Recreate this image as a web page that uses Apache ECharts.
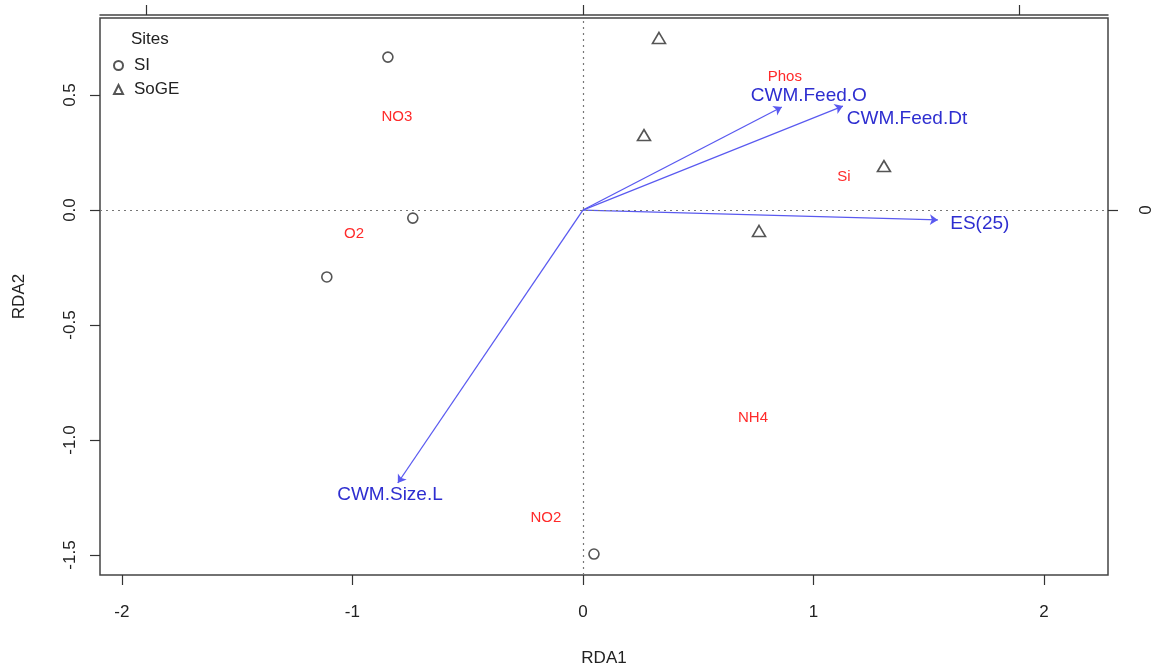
<!DOCTYPE html>
<html>
<head>
<meta charset="utf-8">
<script src="https://cdn.jsdelivr.net/npm/echarts@6/dist/echarts.min.js"></script>
<style>
html,body{margin:0;padding:0;background:#fff;}
#chart{width:1151px;height:669px;}
</style>
</head>
<body>
<div id="chart"></div>
<script>
// ---- data ----
const siPoints = [[-0.846, 0.665], [-0.738, -0.035], [-1.111, -0.291], [0.048, -1.496]];
const sogePoints = [[0.330, 0.748], [0.265, 0.326], [1.306, 0.191], [0.764, -0.091]];
const envNames = ['Phos', 'NO3', 'Si', 'O2', 'NH4', 'NO2'];
const envX = [0.876, -0.807, 1.132, -0.993, 0.738, -0.161];
const envY = [0.578, 0.404, 0.143, -0.104, -0.904, -1.339];
const traitNames = ['CWM.Feed.O', 'CWM.Feed.Dt', 'ES(25)', 'CWM.Size.L'];
const arrowX = [0.863, 1.128, 1.540, -0.803];
const arrowY = [0.448, 0.452, -0.043, -1.187];
const traitLabelX = [0.980, 1.406, 1.722, -0.837];
const traitLabelY = [0.496, 0.396, -0.061, -1.239];
const xTicks = [-2, -1, 0, 1, 2];
const yTicks = [-1.5, -1, -0.5, 0, 0.5];
const topTicks = [-1, 0, 1];
const rightTicks = [0];

const FONT = "'Liberation Sans', Arial, Helvetica, sans-serif";
const AX = '#333';

const chart = echarts.init(document.getElementById('chart'));
chart.setOption({
  animation: false,
  backgroundColor: '#fff',
  textStyle: { fontFamily: FONT },
  title: {
    text: 'Sites', left: 126, top: 26,
    textStyle: { fontFamily: FONT, fontSize: 17, fontWeight: 'normal', color: '#222' }
  },
  legend: {
    orient: 'vertical', left: 108, top: 52, itemWidth: 9, itemHeight: 9, itemGap: 7,
    textStyle: { fontFamily: FONT, fontSize: 17, color: '#222', padding: [0, 0, 0, 6] },
    data: [{ name: 'SI', icon: 'circle' }, { name: 'SoGE', icon: 'triangle' }]
  },
  grid: {
    left: 100, right: 43, top: 18, bottom: 94, outerBoundsMode: 'none', containLabel: false,
    show: true, borderColor: '#444', borderWidth: 1.5, backgroundColor: 'transparent'
  },
  xAxis: [
    {
      type: 'value', position: 'bottom', min: -2.095, max: 2.278,
      axisLine: { show: false, onZero: false },
      splitLine: { show: false },
      axisTick: { show: true, customValues: xTicks, length: 10, lineStyle: { color: AX, width: 1.2 } },
      axisLabel: { customValues: xTicks, margin: 29, fontSize: 17, color: '#222', fontFamily: FONT },
      name: 'RDA1', nameLocation: 'middle', nameGap: 75,
      nameTextStyle: { fontSize: 17, color: '#222', fontFamily: FONT }
    },
    {
      type: 'value', position: 'top', min: -1.1065, max: 1.2027, offset: 3,
      axisLine: { show: true, onZero: false, lineStyle: { color: '#444', width: 1.5 } },
      splitLine: { show: false },
      axisTick: { show: true, customValues: topTicks, length: 10, lineStyle: { color: AX, width: 1.2 } },
      axisLabel: { show: false }
    }
  ],
  yAxis: [
    {
      type: 'value', position: 'left', min: -1.587, max: 0.835,
      axisLine: { show: false, onZero: false },
      splitLine: { show: false },
      axisTick: { show: true, customValues: yTicks, length: 10, lineStyle: { color: AX, width: 1.2 } },
      axisLabel: {
        customValues: yTicks, rotate: 90, margin: 21, fontSize: 17, color: '#222', fontFamily: FONT,
        formatter: v => Number(v).toFixed(1)
      },
      name: 'RDA2', nameLocation: 'middle', nameGap: 72, nameRotate: 90,
      nameTextStyle: { fontSize: 17, color: '#222', fontFamily: FONT }
    },
    {
      type: 'value', position: 'right', min: -0.836, max: 0.44,
      axisLine: { show: false, onZero: false },
      splitLine: { show: false },
      axisTick: { show: true, customValues: rightTicks, length: 10, lineStyle: { color: AX, width: 1.2 } },
      axisLabel: { customValues: rightTicks, rotate: 90, margin: 30, fontSize: 17, color: '#222', fontFamily: FONT }
    }
  ],
  series: [
    {
      name: 'refLines', type: 'scatter', data: [], silent: true,
      markLine: {
        silent: true, symbol: 'none', label: { show: false },
        lineStyle: { type: [2, 4], color: '#777', width: 1.2 },
        data: [{ xAxis: 0 }, { yAxis: 0 }]
      }
    },
    {
      name: 'arrows', type: 'lines', coordinateSystem: 'cartesian2d', silent: true,
      symbol: ['none', 'arrow'], symbolSize: 8,
      lineStyle: { color: '#5a5af0', width: 1.3, opacity: 1 },
      data: traitNames.map((n, i) => ({ name: n, coords: [[0, 0], [arrowX[i], arrowY[i]]] }))
    },
    {
      name: 'SI', type: 'scatter', symbol: 'circle', symbolSize: 10,
      itemStyle: { color: 'rgba(255,255,255,0)', borderColor: '#555', borderWidth: 1.6, opacity: 1 },
      data: siPoints
    },
    {
      name: 'SoGE', type: 'scatter', symbol: 'triangle', symbolSize: [13, 11],
      itemStyle: { color: 'rgba(255,255,255,0)', borderColor: '#555', borderWidth: 1.6, opacity: 1 },
      data: sogePoints
    },
    {
      name: 'env', type: 'scatter', symbolSize: 1, silent: true,
      itemStyle: { color: 'rgba(0,0,0,0)', opacity: 1 },
      label: { show: true, position: 'inside', formatter: p => p.name, color: '#ff2a2a', fontSize: 15, fontFamily: FONT },
      data: envNames.map((n, i) => ({ name: n, value: [envX[i], envY[i]] }))
    },
    {
      name: 'traits', type: 'scatter', symbolSize: 1, silent: true,
      itemStyle: { color: 'rgba(0,0,0,0)', opacity: 1 },
      label: { show: true, position: 'inside', formatter: p => p.name, color: '#2e2ed0', fontSize: 19, fontFamily: FONT },
      data: traitNames.map((n, i) => ({ name: n, value: [traitLabelX[i], traitLabelY[i]] }))
    }
  ]
});
</script>
</body>
</html>
